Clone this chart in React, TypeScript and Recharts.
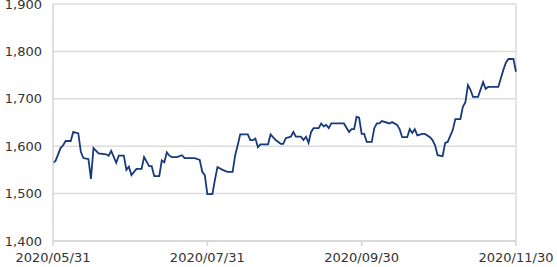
import { LineChart, Line, XAxis, YAxis, CartesianGrid, ReferenceLine } from "recharts";

// days since 2020/05/31
const days = [
  0, 1, 3, 4, 5, 7, 8, 10, 11, 12, 14, 15, 16, 18, 21, 22, 23, 25, 26, 28,
  29, 30, 31, 33, 35, 36, 38, 39, 40, 42, 43, 44, 45, 46, 47, 49, 51, 52, 56, 58,
  59, 60, 61, 63, 64, 65, 67, 69, 71, 72, 73, 74, 77, 78, 79, 80, 81, 82, 85, 86,
  88, 90, 91, 92, 94, 95, 96, 98, 99, 100, 101, 102, 103, 105, 106, 107, 108, 109, 110, 115,
  117, 118, 119, 120, 121, 122, 123, 124, 126, 127, 128, 129, 130, 133, 134, 136, 137, 138, 140, 141,
  142, 143, 144, 146, 147, 149, 150, 151, 152, 154, 155, 156, 158, 159, 161, 162, 163, 164, 165, 166,
  168, 170, 171, 172, 176, 178, 179, 180, 182, 183,
];

const prices = [
  1565, 1569, 1596, 1602, 1611, 1611, 1630, 1627, 1588, 1575, 1573, 1531, 1596, 1585, 1583, 1580, 1590, 1565, 1580, 1580,
  1550, 1557, 1539, 1552, 1552, 1577, 1558, 1558, 1537, 1537, 1570, 1566, 1587, 1580, 1577, 1577, 1581, 1575, 1575, 1571,
  1546, 1539, 1499, 1499, 1529, 1556, 1550, 1546, 1546, 1581, 1602, 1625, 1625, 1613, 1613, 1616, 1598, 1604, 1604, 1625,
  1613, 1605, 1605, 1617, 1620, 1630, 1620, 1620, 1613, 1620, 1607, 1630, 1638, 1638, 1648, 1642, 1645, 1638, 1648, 1648,
  1630, 1636, 1636, 1662, 1660, 1626, 1626, 1609, 1609, 1638, 1648, 1648, 1653, 1648, 1651, 1645, 1636, 1619, 1619, 1636,
  1628, 1636, 1623, 1626, 1626, 1619, 1613, 1602, 1581, 1579, 1607, 1609, 1634, 1657, 1657, 1683, 1693, 1729, 1719, 1704,
  1704, 1735, 1721, 1725, 1725, 1761, 1776, 1784, 1784, 1757,
];

const xTicks = [0, 61, 122, 183];
const xTickLabels = ["2020/05/31", "2020/07/31", "2020/09/30", "2020/11/30"];
const yTicks = [1400, 1500, 1600, 1700, 1800, 1900];

const data = days.map((d, i) => ({ day: d, price: prices[i] }));

const font = { fontFamily: "DejaVu Sans", fontSize: 13, fill: "#333" };

export default function App() {
  return (
    <div style={{ position: "absolute", left: 0, top: 0 }}>
      <LineChart
        width={557}
        height={267}
        data={data}
        margin={{ top: 4, right: 41, left: 0, bottom: 0 }}
      >
        <CartesianGrid vertical={false} stroke="#dcdcdc" strokeWidth={1.5} />
        <XAxis
          dataKey="day"
          type="number"
          domain={[0, 183]}
          ticks={xTicks}
          tickFormatter={(v: number) => xTickLabels[xTicks.indexOf(v)]}
          height={26}
          stroke="#d4d4d4"
          strokeWidth={1.5}
          tickSize={5}
          tickMargin={7}
          tick={font}
          interval={0}
        />
        <YAxis
          domain={[1400, 1900]}
          ticks={yTicks}
          tickFormatter={(v: number) => v.toLocaleString("en-US")}
          width={53}
          stroke="#d4d4d4"
          strokeWidth={1.5}
          tickLine={false}
          tickMargin={5}
          tick={font}
          interval={0}
        />
        <ReferenceLine x={183} stroke="#dcdcdc" strokeWidth={1.5} />
        <Line
          dataKey="price"
          stroke="#173a7a"
          strokeWidth={1.8}
          dot={false}
          isAnimationActive={false}
        />
      </LineChart>
    </div>
  );
}
